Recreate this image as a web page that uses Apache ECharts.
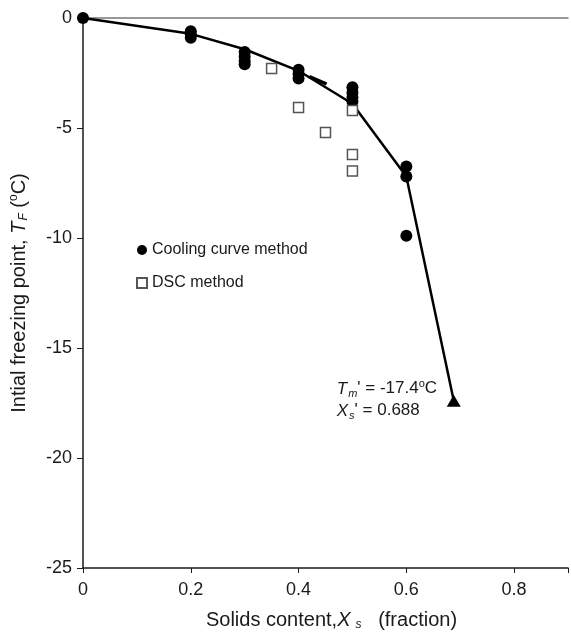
<!DOCTYPE html>
<html>
<head>
<meta charset="utf-8">
<script src="https://cdn.jsdelivr.net/npm/echarts@6/dist/echarts.min.js"></script>
<style>
html,body{margin:0;padding:0;background:#fff;}
#chart{width:571px;height:636px;}
</style>
</head>
<body>
<div id="chart"></div>
<script>
// Cooling curve method (filled circles)
const coolX = [0, 0.2, 0.2, 0.2, 0.3, 0.3, 0.3, 0.3, 0.4, 0.4, 0.4, 0.5, 0.5, 0.5, 0.5, 0.6, 0.6, 0.6];
const coolY = [0, -0.6, -0.75, -0.9, -1.55, -1.75, -1.95, -2.1, -2.35, -2.55, -2.75, -3.15, -3.4, -3.6, -3.8, -6.75, -7.2, -9.9];
// DSC method (open squares)
const dscX = [0.35, 0.4, 0.45, 0.5, 0.5, 0.5];
const dscY = [-2.3, -4.07, -5.2, -4.2, -6.2, -6.95];
// fitted freezing curve
const fitX = [0, 0.2, 0.3, 0.4, 0.5, 0.6, 0.688];
const fitY = [0, -0.72, -1.42, -2.4, -3.9, -7.2, -17.4];
// short overlapping segment
const segX = [0.42, 0.452];
const segY = [-2.66, -3.0];
// end point of the freezing curve
const tmX = [0.688];
const tmY = [-17.4];
const xTicks = [0, 0.2, 0.4, 0.6, 0.8];
const yTicks = [0, -5, -10, -15, -20, -25];

const zip = (a, b) => a.map((v, i) => [v, b[i]]);
const FONT = 'Liberation Sans';
const C = '#1a1a1a';
const chart = echarts.init(document.getElementById('chart'));
chart.setOption({
  animation: false,
  backgroundColor: '#fff',
  textStyle: {fontFamily: FONT, color: C},
  grid: {left: 81.5, right: 0, top: 18, bottom: 62},
  legend: {
    orient: 'vertical', left: 131, top: 237, itemWidth: 10, itemHeight: 10, itemGap: 17,
    data: ['Cooling curve method', 'DSC method'],
    textStyle: {fontFamily: FONT, fontSize: 16, color: C}
  },
  xAxis: [{
    type: 'value', min: 0, max: 0.9, interval: 0.2,
    axisLine: {show: true, onZero: false, lineStyle: {color: C, width: 1.5}},
    axisTick: {show: true, length: 5, lineStyle: {color: C}},
    splitLine: {show: false},
    axisLabel: {fontSize: 18, color: C, margin: 13,
      formatter: v => xTicks.some(t => Math.abs(t - v) < 1e-9) ? String(Math.round(v * 10) / 10) : ''},
    name: 'Solids content,{i|X}{sub|s}{n|   (fraction)}', nameLocation: 'middle', nameGap: 41,
    nameTextStyle: {fontSize: 20, color: C, padding: [0, 0, 0, 12],
      rich: {n: {fontSize: 20, color: C},
             i: {fontStyle: 'italic', fontSize: 20, color: C},
             sub: {fontSize: 12, fontStyle: 'italic', color: C, padding: [10, 0, 0, 5]}}}
  }, {
    type: 'value', min: 0, max: 0.9, position: 'top',
    axisLine: {show: true, onZero: false, lineStyle: {color: '#777', width: 1.5}},
    axisTick: {show: false}, axisLabel: {show: false}, splitLine: {show: false}
  }],
  yAxis: {
    type: 'value', min: -25, max: 0, interval: 5,
    axisLine: {show: true, onZero: false, lineStyle: {color: C, width: 1.5}},
    axisTick: {show: true, length: 6, lineStyle: {color: C}},
    splitLine: {show: false},
    axisLabel: {fontSize: 18, color: C, margin: 11,
      formatter: v => yTicks.includes(v) ? String(v) : ''},
    name: 'Intial freezing point, {i|T}{sub|F} ({sup|o}C)', nameLocation: 'middle', nameGap: 53,
    nameTextStyle: {fontSize: 20, color: C,
      rich: {i: {fontStyle: 'italic', fontSize: 20, color: C},
             sub: {fontSize: 12, fontStyle: 'italic', color: C, padding: [10, 0, 0, 1]},
             sup: {fontSize: 12, color: C, padding: [0, 0, 10, 0]}}}
  },
  series: [
    {name: 'fit', type: 'line', data: zip(fitX, fitY), symbol: 'none', silent: true,
     lineStyle: {color: '#000', width: 2.5}, z: 3},
    {name: 'seg', type: 'line', data: zip(segX, segY), symbol: 'none', silent: true,
     lineStyle: {color: '#000', width: 3.5}, z: 3},
    {name: 'Cooling curve method', type: 'scatter', data: zip(coolX, coolY), symbol: 'circle', symbolSize: 12,
     itemStyle: {color: '#000', opacity: 1}, z: 4},
    {name: 'DSC method', type: 'scatter', data: zip(dscX, dscY), symbol: 'rect', symbolSize: 10,
     itemStyle: {color: '#fff', borderColor: '#555', borderWidth: 1.5, opacity: 1}, z: 5},
    {name: 'Tm', type: 'scatter', data: zip(tmX, tmY), symbol: 'triangle', symbolSize: [14, 12],
     itemStyle: {color: '#000', opacity: 1}, z: 5,
     label: {show: true, position: 'inside', align: 'left', verticalAlign: 'middle', offset: [-117, -1],
       color: C, fontSize: 17, fontFamily: FONT, lineHeight: 22,
       formatter: '{i|T}{sub|m}{n|\' = -17.4}{sup|o}{n|C}\n{i|X}{sub|s}{n|\' = 0.688}',
       rich: {
         n: {fontSize: 17, color: C, lineHeight: 22},
         i: {fontSize: 17, fontStyle: 'italic', color: C, lineHeight: 22},
         sub: {fontSize: 11, fontStyle: 'italic', color: C, padding: [10, 0, 0, 1], lineHeight: 22},
         sup: {fontSize: 11, color: C, padding: [0, 0, 10, 0], lineHeight: 22}
       }}}
  ]
});
</script>
</body>
</html>
